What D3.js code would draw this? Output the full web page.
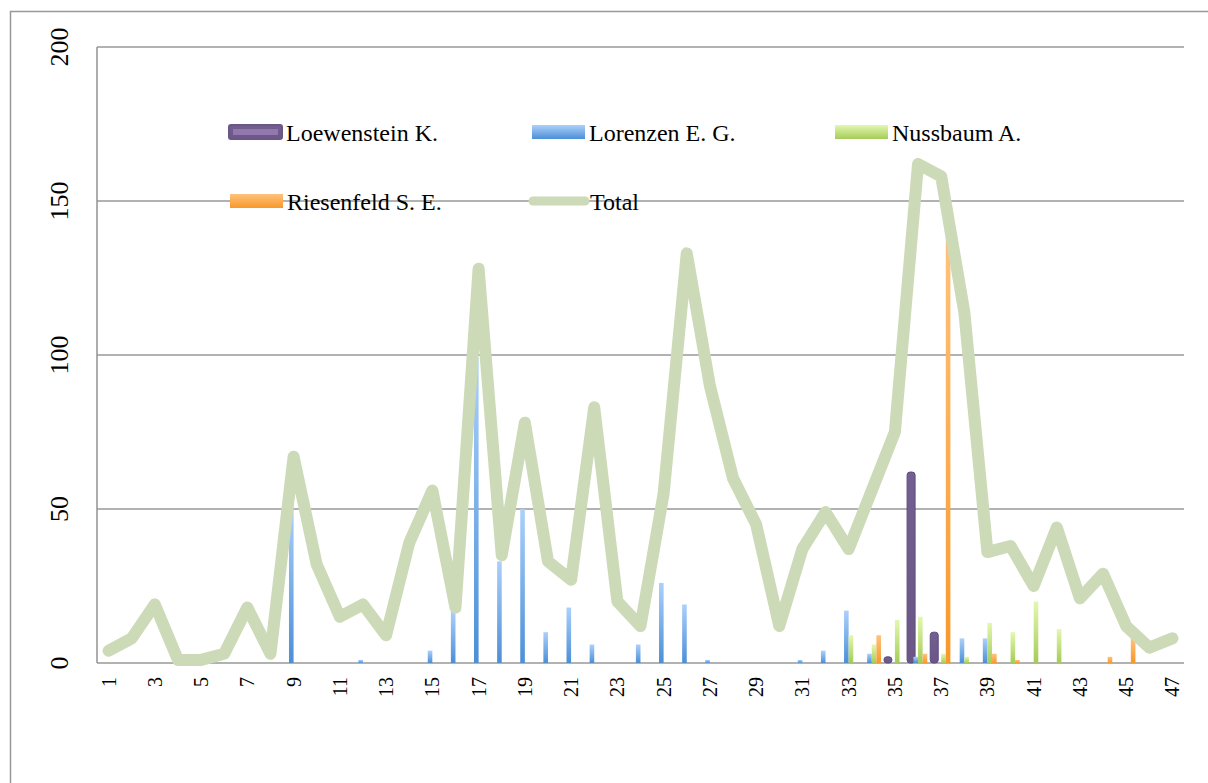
<!DOCTYPE html>
<html>
<head>
<meta charset="utf-8">
<script src="https://cdn.jsdelivr.net/npm/d3@7"></script>
<style>
  body { margin: 0; background: #fff; }
  text { font-family: "Liberation Serif", "DejaVu Serif", serif; fill: #000; }
</style>
</head>
<body>
<svg width="1208" height="783"></svg>
<script>
var categories = d3.range(1, 48);
var seriesNames = ["Loewenstein K.", "Lorenzen E. G.", "Nussbaum A.", "Riesenfeld S. E."];

// values per category 1..47
var loewenstein = [0,0,0,0,0,0,0,0,0,0, 0,0,0,0,0,0,0,0,0,0, 0,0,0,0,0,0,0,0,0,0, 0,0,0,0,2,62,10,0,0,0, 0,0,0,0,0,0,0];
var lorenzen    = [0,0,0,0,0,0,0,0,51,0, 0,1,0,0,4,17,99,33,50,10, 18,6,0,6,26,19,1,0,0,0, 1,4,17,3,0,2,0,8,8,0, 0,0,0,0,0,0,0];
var nussbaum    = [0,0,0,0,0,0,0,0,0,0, 0,0,0,0,0,0,0,0,0,0, 0,0,0,0,0,0,0,0,0,0, 0,0,9,6,14,15,3,2,13,10, 20,11,0,0,0,0,0];
var riesenfeld  = [0,0,0,0,0,0,0,0,0,0, 0,0,0,0,0,0,0,0,0,0, 0,0,0,0,0,0,0,0,0,0, 0,0,0,9,0,3,139,0,3,1, 0,0,0,2,8,0,0];
var total       = [4,8,19,1,1,3,18,3,67,32, 15,19,9,39,56,18,128,35,78,33, 27,83,20,12,55,133,90,60,45,12, 37,49,37,56,75,162,158,114,36,38, 25,44,21,29,12,5,8];
var yTicks = [0, 50, 100, 150, 200];

var svg = d3.select("svg"),
    width = +svg.attr("width"),
    height = +svg.attr("height");

var pLeft = 97, pRight = 1184, pTop = 47, pBottom = 663;

// outer frame (cut off on the right and bottom)
svg.append("rect")
   .attr("x", 10.5).attr("y", 11.5)
   .attr("width", 1300).attr("height", 900)
   .attr("fill", "none").attr("stroke", "#999").attr("stroke-width", 1.5);

var defs = svg.append("defs");
function grad(id, c1, c2) {
    var g = defs.append("linearGradient").attr("id", id)
        .attr("x1", 0).attr("y1", 0).attr("x2", 0).attr("y2", 1);
    g.append("stop").attr("offset", "0%").attr("stop-color", c1);
    g.append("stop").attr("offset", "100%").attr("stop-color", c2);
}
grad("gPurple", "#735f91", "#6a5786");
grad("gBlue", "#acd0fb", "#4b8fd6");
grad("gGreen", "#e4f7b0", "#a4cc58");
grad("gOrange", "#ffc27c", "#f8982a");
var fills = ["url(#gPurple)", "url(#gBlue)", "url(#gGreen)", "url(#gOrange)"];

var x = d3.scaleBand().domain(categories).range([pLeft, pRight]).paddingInner(0.2).paddingOuter(0.1);
var xc = d3.scaleBand().domain(categories).range([pLeft, pRight]);
var xs = d3.scaleBand().domain(seriesNames).range([0, x.bandwidth()]);
var y = d3.scaleLinear().domain([0, 200]).range([pBottom, pTop]);

// gridlines
svg.append("g").selectAll("line")
   .data(yTicks).enter().append("line")
   .attr("x1", pLeft).attr("x2", pRight)
   .attr("y1", function(d) { return y(d); })
   .attr("y2", function(d) { return y(d); })
   .attr("stroke", "#999").attr("stroke-width", 1.6);

svg.append("line")
   .attr("x1", pLeft).attr("x2", pLeft).attr("y1", pTop).attr("y2", pBottom)
   .attr("stroke", "#999").attr("stroke-width", 1.6);

// y labels
svg.append("g").selectAll("text")
   .data(yTicks).enter().append("text")
   .attr("transform", function(d) { return "translate(68," + y(d) + ") rotate(-90)"; })
   .attr("text-anchor", "middle")
   .style("font-size", "26px")
   .text(function(d) { return d; });

// x labels (odd only)
svg.append("g").selectAll("text")
   .data(categories.filter(function(d) { return d % 2 === 1; })).enter().append("text")
   .attr("transform", function(d) { return "translate(" + (xc(d) + xc.bandwidth() / 2 + 7) + ",677) rotate(-90)"; })
   .attr("text-anchor", "end")
   .style("font-size", "20px")
   .text(function(d) { return d; });

// bars
var series = [loewenstein, lorenzen, nussbaum, riesenfeld];
series.forEach(function(vals, si) {
    var bw = si === 0 ? 8 : 4.6;
    svg.append("g").selectAll("rect")
       .data(vals.map(function(v, i) { return { c: categories[i], v: v }; }).filter(function(d) { return d.v > 0; }))
       .enter().append("rect")
       .attr("x", function(d) { return x(d.c) + xs(seriesNames[si]) + xs.bandwidth() / 2 - bw / 2; })
       .attr("y", function(d) { return y(d.v); })
       .attr("width", bw)
       .attr("height", function(d) { return pBottom - y(d.v); })
       .attr("rx", si === 0 ? 3 : 0)
       .attr("fill", fills[si])
       .attr("stroke", si === 0 ? "#5e4c7c" : "none")
       .attr("stroke-width", 1);
});

// total line
var line = d3.line()
    .x(function(d, i) { return xc(categories[i]) + xc.bandwidth() / 2; })
    .y(function(d) { return y(d); });

svg.append("path")
   .datum(total)
   .attr("d", line)
   .attr("fill", "none")
   .attr("stroke", "#cddab8")
   .attr("stroke-width", 12)
   .attr("stroke-linejoin", "round")
   .attr("stroke-linecap", "round");

// legend
var legend = [
    { name: "Loewenstein K.", fill: fills[0], x: 229, y: 125, type: "bar" },
    { name: "Lorenzen E. G.", fill: fills[1], x: 532, y: 125, type: "bar" },
    { name: "Nussbaum A.", fill: fills[2], x: 835, y: 125, type: "bar" },
    { name: "Riesenfeld S. E.", fill: fills[3], x: 230, y: 194, type: "bar" },
    { name: "Total", fill: "#cddab8", x: 530, y: 194, type: "line" }
];
var lg = svg.append("g").selectAll("g").data(legend).enter().append("g");
lg.filter(function(d) { return d.type === "bar"; }).append("rect")
  .attr("x", function(d) { return d.x; })
  .attr("y", function(d) { return d.y; })
  .attr("width", 53).attr("height", 14)
  .attr("rx", function(d, i) { return i === 0 ? 2 : 0; })
  .attr("fill", function(d) { return d.fill; })
  .attr("stroke", function(d, i) { return i === 0 ? "#6a5786" : "none"; })
  .attr("stroke-width", 2);
lg.filter(function(d) { return d.type === "bar" && d.name === "Loewenstein K."; }).append("rect")
  .attr("x", function(d) { return d.x + 4; })
  .attr("y", function(d) { return d.y + 4; })
  .attr("width", 45).attr("height", 6)
  .attr("fill", "#9278ad");
lg.filter(function(d) { return d.type === "line"; }).append("line")
  .attr("x1", function(d) { return d.x + 3; })
  .attr("x2", function(d) { return d.x + 55; })
  .attr("y1", function(d) { return d.y + 7; })
  .attr("y2", function(d) { return d.y + 7; })
  .attr("stroke", "#cddab8").attr("stroke-width", 9)
  .attr("stroke-linecap", "round");
lg.append("text")
  .attr("x", function(d) { return d.x + (d.type === "line" ? 60 : 57); })
  .attr("y", function(d) { return d.y + 16; })
  .style("font-size", "24px")
  .text(function(d) { return d.name; });
</script>
</body>
</html>
